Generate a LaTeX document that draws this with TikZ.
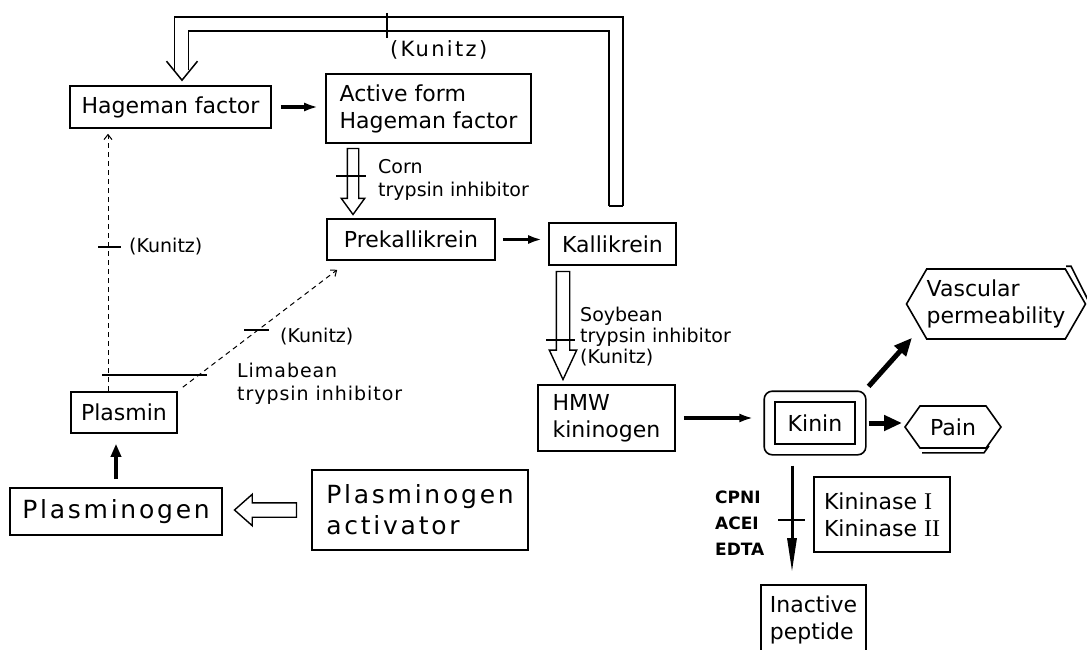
\documentclass[tikz,border=0pt]{standalone}
\usepackage{fontspec}
\setmainfont{DejaVu Sans}
\newfontfamily\spacedfont[LetterSpace=11]{DejaVu Sans}
\newfontfamily\limafont[LetterSpace=5]{DejaVu Sans}
\newfontfamily\romfont{Liberation Serif}
\usetikzlibrary{arrows.meta,shapes.arrows,shapes.symbols,fit,calc}

\newcommand{\boxtext}{\fontsize{22}{27}\selectfont}
\newcommand{\notetext}{\fontsize{19}{23}\selectfont}
\newcommand{\widetext}{\spacedfont\fontsize{25}{31}\selectfont}

\tikzstyle{factor} = [rectangle, draw=black, line width=1.6pt, inner sep=0pt, font=\boxtext]
\tikzstyle{effect} = [signal, signal to=west and east, draw=black, line width=1.6pt, inner sep=0pt, font=\boxtext]
\tikzstyle{note} = [inner sep=0pt, anchor=west, align=left, font=\notetext]
\tikzstyle{arrow} = [line width=3.2pt, -{Latex[length=14pt,width=9pt]}]
\tikzstyle{fatarrow} = [line width=5pt, -{Triangle[length=18pt,width=15pt]}]
\tikzstyle{killarrow} = [line width=3pt, -{Triangle[length=34pt,width=9pt]}]
\tikzstyle{dasharrow} = [line width=1pt, dash pattern=on 5pt off 4pt, -{Straight Barb[length=5pt,width=8pt]}]
\tikzstyle{hollow} = [single arrow, draw=black, line width=1.4pt, single arrow head indent=0pt]
\tikzstyle{channel} = [line width=1.5pt, double, double distance=12.5pt]
\tikzstyle{bar} = [line width=1.6pt]

\begin{document}
\begin{tikzpicture}[x=1pt, y=-1pt]
\useasboundingbox (0,0) rectangle (1087,650);

% boxes
\node (hag) [factor, minimum width=201pt, minimum height=42pt] at (170.5,107) {Hageman factor};
\node (act) [factor, align=left, minimum width=205pt, minimum height=69pt] at (428.5,108.5) {Active form\\Hageman factor};
\node (prek) [factor, minimum width=168pt, minimum height=41pt] at (411,239.5) {Prekallikrein};
\node (kal) [factor, minimum width=127pt, minimum height=42pt] at (612.5,244) {Kallikrein};
\node (hmw) [factor, align=left, minimum width=137pt, minimum height=66pt] at (606.5,418) {HMW\\kininogen};
\node (kin) [factor, minimum width=80pt, minimum height=42pt] at (815,423) {Kinin};
\node (kinbox) [fit=(kin), inner sep=10pt, draw=black, line width=1.6pt, rounded corners=8pt] {};
\node (pain) [effect, signal pointer angle=109, minimum width=96pt, minimum height=42pt] at (953,427) {Pain};
\node (vasc) [effect, align=left, signal pointer angle=120, minimum width=178pt, minimum height=70pt] at (996,304) {Vascular\\permeability};
\node (kinase) [factor, align=left, minimum width=136pt, minimum height=75pt] at (882,514.5) {Kininase {\romfont\fontsize{24}{27}\selectfont I}\\Kininase {\romfont\fontsize{24}{27}\selectfont II}};
\node (inactive) [factor, align=left, minimum width=105pt, minimum height=70pt] at (813.5,620) {Inactive\\peptide};
\node (plasmin) [factor, minimum width=106pt, minimum height=41pt] at (124,412.5) {Plasmin};
\node (plasminogen) [factor, font=\widetext, minimum width=212pt, minimum height=47pt] at (116,511.5) {Plasminogen};
\node (activator) [factor, font=\widetext, align=left, minimum width=216pt, minimum height=80pt] at (420,510) {Plasminogen\\activator};

% shadows of the effect shapes
\draw [bar] ([xshift=-31pt,yshift=-4pt]pain.south) -- ([xshift=31pt,yshift=-4pt]pain.south) -- ([xshift=36pt,yshift=3pt]pain.south);
\draw [bar] ([xshift=70pt,yshift=2pt]vasc.north) -- ([xshift=75pt,yshift=2pt]vasc.north) -- ([xshift=94pt]vasc.center);

% feedback from kallikrein
\draw [channel] ([xshift=3.5pt,yshift=16pt]kal.north) -- ++(0,-182) -| ([xshift=11pt,yshift=15pt]hag.north);
\draw [bar] ([xshift=-3.5pt,yshift=16pt]kal.north) -- ([xshift=10.5pt,yshift=16pt]kal.north);
\draw [line width=1.5pt] ([xshift=-4pt,yshift=24pt]hag.north) -- ([xshift=11.5pt,yshift=5pt]hag.north) -- ([xshift=27pt,yshift=24pt]hag.north);
\draw [bar] (387,13) -- (387,38);
\node [inner sep=0pt, anchor=west, font=\spacedfont\fontsize{21}{25}\selectfont] at (390,50) {(Kunitz)};

% hollow arrows
\node (cornarr) [hollow, minimum height=66pt, inner sep=5pt, single arrow head extend=6pt, single arrow tip angle=72, shape border rotate=270, anchor=tail] at ([xshift=-75.5pt,yshift=-4pt]act.south) {};
\node (soyarr) [hollow, minimum height=108pt, inner sep=6pt, single arrow head extend=7pt, single arrow tip angle=50, shape border rotate=270, anchor=tail] at ([xshift=-49.5pt,yshift=-5pt]kal.south) {};
\node (actarr) [hollow, minimum height=62pt, inner sep=6.5pt, single arrow head extend=8.5pt, single arrow tip angle=83, shape border rotate=180, anchor=tail] at ([xshift=-14pt]activator.west) {};

% arrows
\draw [arrow, shorten <=9pt, shorten >=7pt] (hag.east) -- (hag.east -| act.west);
\draw [arrow, shorten <=7pt, shorten >=6pt] (prek.east) -- (prek.east -| kal.west);
\draw [arrow, shorten <=8pt, shorten >=10pt] (hmw.east) -- (hmw.east -| kinbox.west);
\draw [fatarrow, shorten <=2pt, shorten >=2pt] (kinbox.east) -- (kinbox.east -| pain.west);
\draw [fatarrow] ([xshift=2pt,yshift=4pt]kinbox.north east) -- ([xshift=-84pt,yshift=2pt]vasc.south);
\coordinate (kx) at (792,0);
\draw [killarrow, shorten <=10pt, shorten >=12pt] (kinbox.south -| kx) -- (inactive.north -| kx);
\draw [arrow, -{Triangle[length=13pt,width=10pt]}, shorten <=8pt, shorten >=10pt] (plasminogen.north) -- (plasminogen.north |- plasmin.south);
\coordinate (dx) at (108,0);
\draw [dasharrow, shorten >=5pt] (plasmin.north -| dx) -- (hag.south -| dx);
\draw [dasharrow] ([xshift=5pt,yshift=4pt]plasmin.north east) -- ([xshift=11pt,yshift=-9pt]prek.south west);

% inhibitors
\draw [bar] (336,176) -- (366,176);
\node [note] at (378,179.5) {Corn\\trypsin inhibitor};
\draw [bar] (546,340) -- (575,340);
\node [note, font=\fontsize{19}{21}\selectfont] at (580,337) {Soybean\\trypsin inhibitor\\(Kunitz)};
\draw [bar] (98,247) -- (121,247);
\node [note] at (129,247) {(Kunitz)};
\draw [bar] (244,330) -- (269,330);
\node [note] at (280,337) {(Kunitz)};
\draw [bar] (102,375) -- (207,375);
\node [note, font=\limafont\fontsize{19}{23}\selectfont] at (237,383.5) {Limabean\\trypsin inhibitor};
\draw [bar] (778,520) -- (805,520);
\node [note, font=\bfseries\fontsize{17}{26}\selectfont] at (715,523) {CPNI\\ACEI\\EDTA};

\end{tikzpicture}
\end{document}
